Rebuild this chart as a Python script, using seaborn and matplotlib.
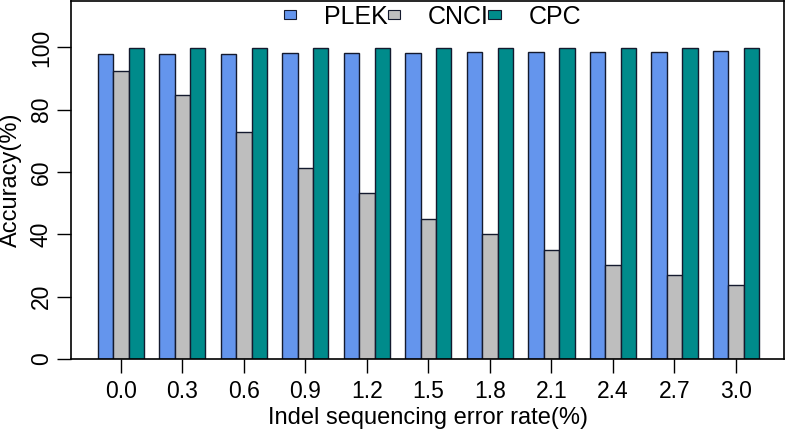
import matplotlib
matplotlib.use("Agg")
import matplotlib.pyplot as plt
import pandas as pd
import seaborn as sns

# ----------------------------------------------
# DATA
# ----------------------------------------------
error_rates = ["0.0", "0.3", "0.6", "0.9", "1.2", "1.5", "1.8", "2.1", "2.4", "2.7", "3.0"]
plek = [97.8, 97.8, 97.9, 98.1, 98.2, 98.3, 98.4, 98.5, 98.6, 98.6, 98.7]
cnci = [92.3, 84.6, 72.9, 61.4, 53.3, 44.9, 40.1, 35.0, 30.1, 26.8, 23.9]
cpc = [99.8, 99.8, 99.8, 99.8, 99.8, 99.8, 99.8, 99.8, 99.8, 99.8, 99.8]
tools = ["PLEK", "CNCI", "CPC"]
colors = ["#6495ED", "#BEBEBE", "#008B8B"]   # cornflowerblue, gray, cyan4

df = pd.DataFrame({
    "rate": error_rates * 3,
    "acc": plek + cnci + cpc,
    "tool": [t for t in tools for _ in error_rates],
})

sns.set_style("white")
plt.rcParams["font.family"] = ["Liberation Sans", "DejaVu Sans"]
plt.rcParams["text.color"] = "black"
plt.rcParams["axes.labelcolor"] = "black"
plt.rcParams["xtick.color"] = "black"
plt.rcParams["ytick.color"] = "black"

fig = plt.figure(figsize=(7.85, 4.33), dpi=100)
ax = fig.add_axes([71 / 785, (433 - 359) / 433, (784 - 71) / 785, (359 - 1) / 433])

sns.barplot(data=df, x="rate", y="acc", hue="tool", order=error_rates,
            hue_order=tools, palette=colors, saturation=1, width=0.75, gap=0,
            edgecolor="#141a2e", linewidth=1.0, ax=ax)

ax.set_xlim(-0.81, 10.78)
ax.set_ylim(0, 114.9)
ax.set_yticks([0, 20, 40, 60, 80, 100])
ax.tick_params(axis="both", direction="out", length=10, width=1.0,
               color="black", labelsize=16.5, left=True, bottom=True)
ax.tick_params(axis="x", pad=5)
ax.tick_params(axis="y", pad=3)
for lab in ax.get_yticklabels():
    lab.set_rotation(90)
    lab.set_va("center")

ax.set_xlabel("Indel sequencing error rate(%)", fontsize=17, labelpad=3)
ax.set_ylabel("Accuracy(%)", fontsize=17, labelpad=6)

for sp in ax.spines.values():
    sp.set_visible(True)
    sp.set_color("black")
    sp.set_linewidth(1.2)

handles, labels = ax.get_legend_handles_labels()
for h in handles:
    h.set_linewidth(0.8)
ax.legend(handles, labels, loc="upper center", bbox_to_anchor=(0.507, 1.025),
          ncol=3, frameon=False, fontsize=18, handlelength=0.5,
          handleheight=0.22, handletextpad=1.1, columnspacing=0.0,
          borderaxespad=0.1)

fig.savefig("out.png", dpi=100)
plt.close(fig)
